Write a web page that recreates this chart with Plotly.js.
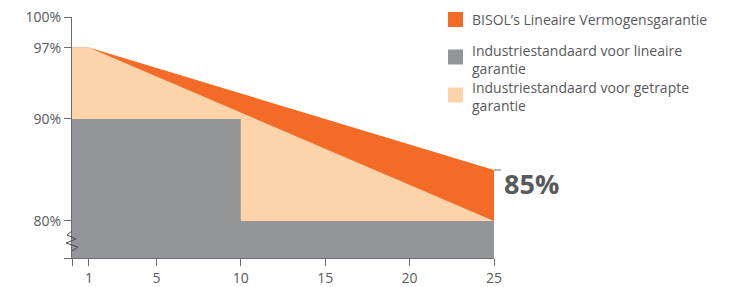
<!DOCTYPE html>
<html>
<head>
<meta charset="utf-8">
<script src="https://cdn.plot.ly/plotly-3.0.1.min.js"></script>
<style>html,body{margin:0;padding:0;background:#fff;}#chart{width:735px;height:287px;}</style>
</head>
<body>
<div id="chart"></div>
<script>
// Data
const years = [0, 1, 25];
const bisolGuarantee = [97, 97, 85];
const linearStandard = [97, 97, 80];
const stepYears = [0, 10, 10, 25];
const stepStandard = [90, 90, 80, 80];
const yTickVals = [76.37, 80, 90, 97, 100];
const yTickText = ['', '80%', '90%', '97%', '100%'];
const xTickVals = [0, 1, 5, 10, 15, 20, 25];
const xTickText = ['', '1', '5', '10', '15', '20', '25'];
const legendLabels = [
  "BISOL\u2019s Lineaire Vermogensgarantie",
  "Industriestandaard voor lineaire<br>garantie",
  "Industriestandaard voor getrapte<br>garantie"
];
const endLabel = '85%';

const ORANGE = '#F36B26', GRAY = '#939598', PEACH = '#FDD4AA', TXT = '#58595B', AX = '#6D6E71';
const FONT = 'Open Sans, sans-serif';

const traces = [
  {x: years, y: bisolGuarantee, mode: 'none', fill: 'tozeroy', fillcolor: ORANGE, hoverinfo: 'skip'},
  {x: years, y: linearStandard, mode: 'none', fill: 'tozeroy', fillcolor: PEACH, hoverinfo: 'skip'},
  {x: stepYears, y: stepStandard, mode: 'none', fill: 'tozeroy', fillcolor: GRAY, hoverinfo: 'skip'}
];

const W = 422, H = 241, L = 72, T = 17;
const px = v => (v - L) / W;
const py = v => (T + H - v) / H;

const shapes = [];
const annotations = [];
const legendColors = [ORANGE, GRAY, PEACH];
const boxTops = [12, 49.5, 87.5];
const textMid = [20, 59, 96.5];
legendLabels.forEach((t, i) => {
  shapes.push({type: 'rect', xref: 'paper', yref: 'paper', x0: px(448), x1: px(463),
    y0: py(boxTops[i] + 15), y1: py(boxTops[i]), fillcolor: legendColors[i], line: {width: 0}});
  annotations.push({xref: 'paper', yref: 'paper', x: px(470), y: py(textMid[i]),
    xanchor: 'left', yanchor: 'middle', align: 'left', text: t, showarrow: false,
    font: {family: FONT, size: 14, color: TXT}});
});
// end label at 85% (small tick + label)
shapes.push({type: 'line', xref: 'paper', yref: 'y', x0: 1, x1: px(501),
  y0: bisolGuarantee[2], y1: bisolGuarantee[2], line: {color: AX, width: 1}});
annotations.push({xref: 'x', yref: 'y', x: years[2], y: bisolGuarantee[2], xanchor: 'left', yanchor: 'top',
  xshift: 8, yshift: 7, text: '<b>' + endLabel + '</b>', showarrow: false,
  font: {family: FONT, size: 27, color: TXT}});
// axis break zigzag (paper coords so it is not clipped)
const zz = [[72, 231], [67, 235], [76, 239], [66, 243], [78, 247], [72, 251]];
shapes.push({type: 'path', xref: 'paper', yref: 'paper', layer: 'above',
  path: zz.map((p, i) => (i ? 'L ' : 'M ') + px(p[0]).toFixed(4) + ' ' + py(p[1]).toFixed(4)).join(' '),
  line: {color: '#4D4D4F', width: 1}});

const layout = {
  width: 735, height: 287,
  margin: {l: L, r: 735 - L - W, t: T, b: 287 - T - H, pad: 0},
  paper_bgcolor: '#fff', plot_bgcolor: '#fff',
  showlegend: false,
  xaxis: {range: [0, 25], tickvals: xTickVals, ticktext: xTickText, ticks: 'outside', ticklen: 7,
    tickcolor: AX, showline: true, linecolor: AX, linewidth: 1, showgrid: false, zeroline: false,
    tickfont: {family: FONT, size: 14, color: TXT}, fixedrange: true},
  yaxis: {range: [76.37, 100], tickvals: yTickVals, ticktext: yTickText, ticks: 'outside', ticklen: 7,
    tickcolor: AX, showline: true, linecolor: AX, linewidth: 1, showgrid: false, zeroline: false,
    tickfont: {family: FONT, size: 14, color: TXT}, fixedrange: true},
  shapes: shapes,
  annotations: annotations
};

Plotly.newPlot('chart', traces, layout, {staticPlot: true, displayModeBar: false});
</script>
</body>
</html>
